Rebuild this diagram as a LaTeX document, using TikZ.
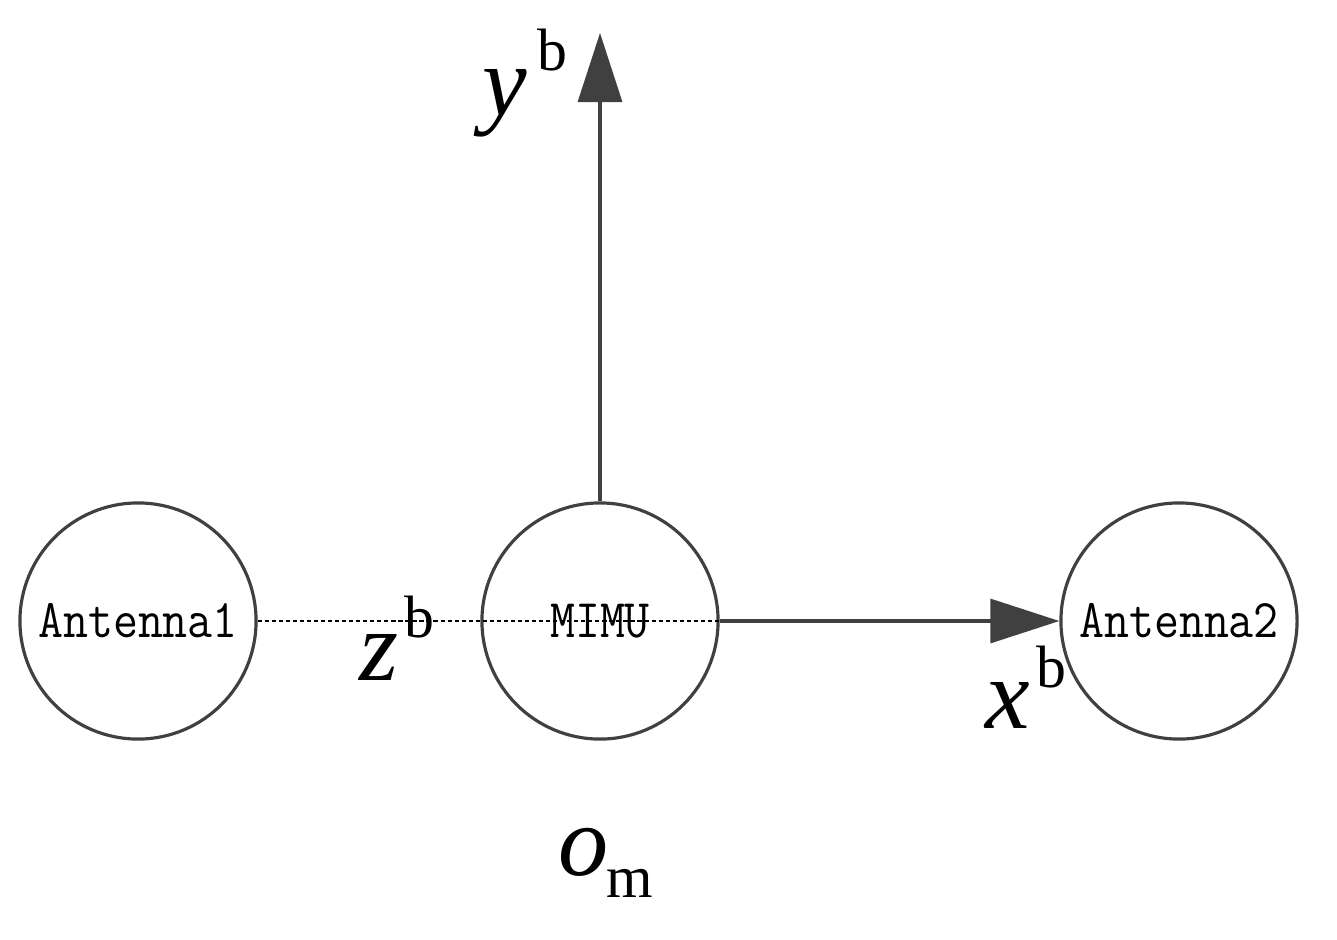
\documentclass[tikz,border=0pt]{standalone}
\usepackage{fontspec}
\setmainfont{Liberation Serif}
\usetikzlibrary{arrows.meta}
\definecolor{lc}{RGB}{64,64,64}
\begin{document}
\begin{tikzpicture}[x=0.01cm,y=-0.01cm]
\tikzset{
 ring/.style={circle,draw=lc,line width=0.9pt,minimum size=2.36cm,inner sep=0pt,font=\ttfamily\fontsize{15.5}{16}\selectfont},
 axis/.style={draw=lc,line width=0.9pt,-{Triangle[length=0.69cm,width=0.44cm]}},
 dotline/.style={draw=black,line width=0.35pt,dash pattern=on 1.2pt off 0.8pt},
 lab/.style={anchor=base west,inner sep=0pt,font=\fontsize{28.5}{30}\selectfont\itshape},
 sup/.style={anchor=base west,inner sep=0pt,font=\fontsize{17}{18}\selectfont},
}
\useasboundingbox (0,0) rectangle (1337,939);
\node[ring] (a1) at (138,621) {\scalebox{0.89}[1]{Antenna1}};
\node[ring] (mimu) at (600,621) {\scalebox{0.89}[1]{MIMU}};
\node[ring] (a2) at (1179,621) {\scalebox{0.89}[1]{Antenna2}};
\coordinate (ytip) at (600,33);
\draw[dotline] (a1.east) -- (mimu.east);
\draw[axis] (mimu.north) -- (ytip);
\draw[axis] (mimu.east) -- (a2.west);
\node[lab] (ylab) at (482,115) {y};
\node[sup] (ysup) at (537,70) {b};
\node[lab] (zlab) at (359,680) {z};
\node[sup] (zsup) at (404,637) {b};
\node[lab] (xlab) at (985,728) {x};
\node[sup] (xsup) at (1036,687) {b};
\node[lab] (olab) at (558,875) {o};
\node[sup] (osub) at (606,897) {m};
\end{tikzpicture}
\end{document}
